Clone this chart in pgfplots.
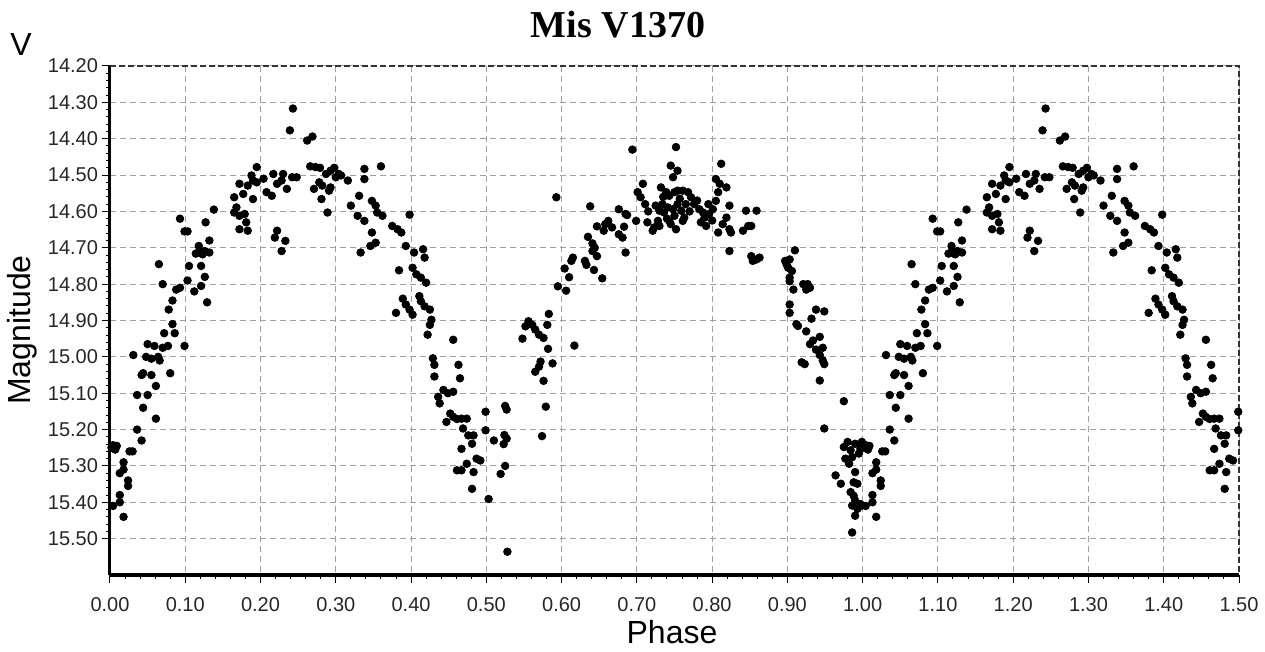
\documentclass[border=0pt]{standalone}
\usepackage{pgfplots}
\usepackage{pgfplotstable}
\usepackage{fontspec}
\setmainfont{Liberation Sans}
\newfontfamily\titlefont{Liberation Serif}
\pgfplotsset{compat=1.18}
\pgfplotstableread{
p m
0.004 15.243
0.002 15.25
0.007 15.255
0.009 15.245
0.013 15.32
0.018 15.29
0.018 15.31
0.024 15.34
0.024 15.355
0.013 15.38
0.013 15.40
0.004 15.41
0.018 15.44
0.026 15.26
0.030 15.26
0.042 15.23
0.036 15.20
0.061 15.17
0.036 15.105
0.050 15.105
0.044 15.14
0.061 15.08
0.042 15.05
0.044 15.045
0.055 15.05
0.031 14.995
0.048 15.00
0.055 15.005
0.064 15.00
0.066 15.01
0.050 14.965
0.059 14.97
0.070 14.975
0.077 14.97
0.099 14.97
0.080 15.045
0.072 14.935
0.086 14.935
0.083 14.91
0.078 14.87
0.083 14.845
0.088 14.815
0.093 14.81
0.070 14.80
0.065 14.745
0.103 14.79
0.105 14.75
0.112 14.82
0.121 14.805
0.126 14.78
0.129 14.85
0.121 14.75
0.114 14.716
0.118 14.695
0.123 14.718
0.126 14.709
0.132 14.713
0.118 14.713
0.132 14.68
0.093 14.62
0.099 14.655
0.103 14.655
0.127 14.63
0.138 14.595
0.165 14.561
0.168 14.589
0.165 14.603
0.172 14.524
0.177 14.552
0.183 14.529
0.188 14.501
0.195 14.478
0.190 14.515
0.195 14.52
0.204 14.51
0.190 14.566
0.172 14.612
0.179 14.607
0.181 14.63
0.172 14.649
0.183 14.653
0.208 14.547
0.215 14.557
0.217 14.497
0.230 14.497
0.222 14.524
0.228 14.515
0.235 14.538
0.242 14.506
0.248 14.506
0.222 14.653
0.219 14.672
0.233 14.681
0.228 14.709
0.239 14.377
0.243 14.317
0.262 14.405
0.269 14.394
0.266 14.476
0.273 14.478
0.279 14.48
0.271 14.538
0.278 14.52
0.282 14.529
0.281 14.566
0.289 14.603
0.287 14.497
0.293 14.488
0.298 14.48
0.300 14.506
0.304 14.497
0.307 14.501
0.316 14.515
0.293 14.534
0.291 14.543
0.338 14.483
0.338 14.511
0.320 14.584
0.331 14.557
0.329 14.612
0.338 14.626
0.333 14.713
0.360 14.476
0.348 14.571
0.353 14.584
0.355 14.603
0.362 14.612
0.348 14.658
0.353 14.686
0.346 14.695
0.375 14.64
0.382 14.649
0.387 14.658
0.398 14.609
0.393 14.695
0.404 14.713
0.416 14.704
0.418 14.727
0.384 14.762
0.402 14.755
0.407 14.773
0.413 14.782
0.420 14.796
0.389 14.84
0.393 14.856
0.398 14.87
0.402 14.884
0.380 14.879
0.411 14.833
0.413 14.847
0.418 14.861
0.425 14.87
0.427 14.898
0.425 14.912
0.422 14.939
0.456 14.953
0.429 15.004
0.431 15.022
0.431 15.054
0.463 15.022
0.465 15.059
0.436 15.11
0.438 15.128
0.443 15.091
0.449 15.10
0.456 15.096
0.447 15.179
0.452 15.156
0.456 15.165
0.461 15.171
0.467 15.17
0.474 15.17
0.469 15.197
0.476 15.216
0.483 15.216
0.481 15.239
0.467 15.253
0.461 15.312
0.467 15.312
0.474 15.294
0.483 15.317
0.487 15.28
0.492 15.285
0.499 15.151
0.499 15.202
0.510 15.23
0.481 15.363
0.503 15.391
0.519 15.322
0.525 15.135
0.527 15.145
0.524 15.215
0.527 15.225
0.523 15.24
0.525 15.30
0.528 15.536
0.548 14.95
0.552 14.916
0.556 14.902
0.561 14.912
0.565 14.925
0.570 14.939
0.576 14.948
0.581 14.912
0.583 14.882
0.572 15.013
0.565 15.041
0.570 15.027
0.576 15.066
0.582 14.978
0.588 15.018
0.579 15.137
0.574 15.218
0.617 14.969
0.593 14.561
0.595 14.806
0.606 14.818
0.604 14.757
0.610 14.781
0.615 14.727
0.613 14.736
0.631 14.736
0.633 14.747
0.643 14.761
0.654 14.784
0.635 14.67
0.641 14.688
0.644 14.70
0.647 14.723
0.641 14.709
0.638 14.586
0.647 14.641
0.656 14.653
0.658 14.635
0.662 14.626
0.667 14.644
0.676 14.663
0.681 14.672
0.676 14.594
0.685 14.607
0.683 14.642
0.685 14.713
0.687 14.61
0.694 14.43
0.699 14.626
0.701 14.547
0.705 14.561
0.708 14.524
0.711 14.58
0.714 14.63
0.721 14.653
0.723 14.644
0.728 14.626
0.725 14.584
0.732 14.534
0.739 14.547
0.743 14.557
0.750 14.547
0.754 14.543
0.761 14.543
0.768 14.547
0.772 14.561
0.745 14.474
0.754 14.488
0.752 14.423
0.748 14.506
0.734 14.58
0.741 14.589
0.748 14.594
0.754 14.58
0.759 14.598
0.763 14.617
0.750 14.612
0.743 14.626
0.745 14.635
0.752 14.649
0.761 14.626
0.730 14.598
0.736 14.603
0.735 14.56
0.757 14.565
0.765 14.58
0.780 14.57
0.740 14.62
0.770 14.60
0.795 14.58
0.800 14.625
0.715 14.60
0.730 14.64
0.776 14.58
0.783 14.594
0.788 14.603
0.790 14.617
0.785 14.63
0.792 14.64
0.796 14.607
0.801 14.594
0.805 14.571
0.808 14.547
0.810 14.524
0.805 14.511
0.812 14.469
0.808 14.658
0.814 14.635
0.819 14.617
0.823 14.584
0.819 14.534
0.823 14.649
0.825 14.658
0.823 14.709
0.841 14.653
0.848 14.64
0.852 14.64
0.845 14.598
0.859 14.598
0.852 14.723
0.859 14.732
0.863 14.727
0.854 14.736
0.910 14.707
0.897 14.736
0.899 14.746
0.903 14.732
0.901 14.755
0.906 14.764
0.903 14.782
0.903 14.792
0.908 14.815
0.903 14.856
0.903 14.879
0.921 14.80
0.927 14.80
0.930 14.81
0.925 14.815
0.912 14.91
0.914 14.915
0.925 14.93
0.930 14.965
0.934 14.955
0.919 15.015
0.923 15.02
0.932 14.895
0.938 14.87
0.949 14.875
0.943 14.945
0.938 14.98
0.943 14.995
0.947 15.01
0.949 15.02
0.947 14.975
0.943 15.065
0.949 15.197
0.975 15.122
0.980 15.234
0.990 15.239
0.999 15.234
0.975 15.248
0.984 15.257
0.997 15.252
0.977 15.28
0.986 15.276
0.982 15.294
0.995 15.266
0.990 15.317
0.988 15.345
0.993 15.349
0.964 15.326
0.971 15.349
0.984 15.372
0.988 15.382
0.990 15.395
0.986 15.409
0.993 15.418
0.997 15.405
0.999 15.409
0.990 15.437
0.986 15.483
}\lc
\begin{document}
\begin{tikzpicture}[x=0.5pt,y=0.5pt]
\path[use as bounding box] (0,0) rectangle (1265,652);
\begin{axis}[
  at={(55pt,38.5pt)}, anchor=south west,
  scale only axis, width=564.5pt, height=254.5pt,
  xmin=0, xmax=1.5, ymin=14.2, ymax=15.6, y dir=reverse,
  clip=false,
  axis x line*=bottom, axis y line*=left,
  axis line style={-, line width=1.5pt, black},
  xtick={0,0.1,0.2,0.3,0.4,0.5,0.6,0.7,0.8,0.9,1.0,1.1,1.2,1.3,1.4,1.5},
  ytick={14.2,14.3,14.4,14.5,14.6,14.7,14.8,14.9,15.0,15.1,15.2,15.3,15.4,15.5},
  minor x tick num=4, minor y tick num=4,
  tick align=outside,
  major tick length=4pt, minor tick length=2.2pt,
  tick style={black, line width=0.5pt},
  grid=major,
  major grid style={gray!75, line width=0.5pt, dash pattern=on 3pt off 2pt},
  /pgf/number format/assume math mode=true,
  xticklabel={\pgfmathprintnumber[fixed,fixed zerofill,precision=2]{\tick}},
  yticklabel={\pgfmathprintnumber[fixed,fixed zerofill,precision=2]{\tick}},
  ticklabel style={font=\fontsize{10}{12}\selectfont, text=black!85},
  xticklabel style={yshift=-3.5pt},
  yticklabel style={xshift=1.5pt},
]
\addplot[only marks, mark=*, mark size=1.9pt, black, restrict x to domain=0:1.5] table[x=p,y=m] {\lc};
\addplot[only marks, mark=*, mark size=1.9pt, black, restrict x to domain=0:1.5] table[x expr=\thisrow{p}+1,y=m] {\lc};
\draw[black!80, line width=0.6pt, dash pattern=on 3pt off 1.5pt] (axis cs:0,14.2) -- (axis cs:1.5,14.2) -- (axis cs:1.5,15.6);
\end{axis}
\node[font=\titlefont\bfseries\fontsize{19}{22}\selectfont] at (618,627) {Mis V1370};
\node[font=\fontsize{16}{19}\selectfont] at (21,607) {V};
\node[font=\fontsize{16}{19}\selectfont, rotate=90] at (22,322) {Magnitude};
\node[font=\fontsize{16}{19}\selectfont] at (672,20) {Phase};
\end{tikzpicture}
\end{document}
